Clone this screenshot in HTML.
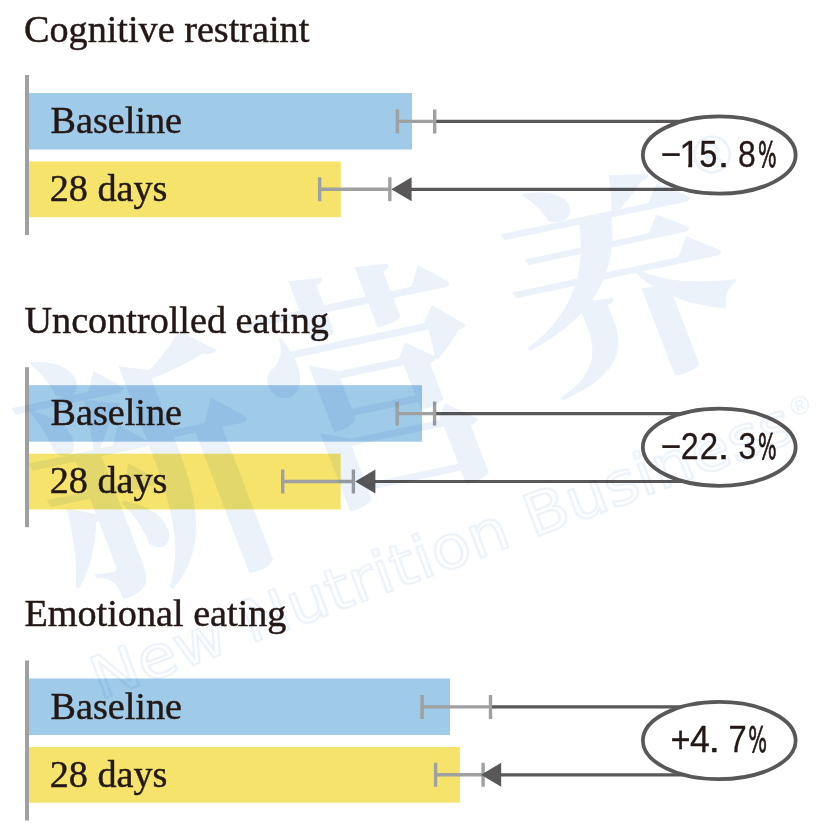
<!DOCTYPE html>
<html><head><meta charset="utf-8"><style>
html,body{margin:0;padding:0;background:#fff;}
svg{display:block;}
.serif{font-family:"Liberation Serif",serif;font-size:38.2px;fill:#231815;stroke:#231815;stroke-width:0.45px;}
.num{font-family:"Liberation Sans",sans-serif;font-size:37.5px;fill:#231815;stroke:#231815;stroke-width:0.3px;}
</style></head><body>
<svg width="828" height="824" viewBox="0 0 828 824">
<rect width="828" height="824" fill="#fff"/>
<g>
<text class="serif" x="24.0" y="42.0">Cognitive restraint</text>
<rect x="25" y="75.00" width="4" height="160" fill="#9fa0a0"/>
<rect x="29" y="93.00" width="383.00" height="56.5" fill="#9fcae8"/>
<rect x="29" y="161.50" width="311.80" height="55.7" fill="#f5e36c"/>
<text class="serif" x="50.5" y="133.00">Baseline</text>
<text class="serif" x="49.7" y="201.20">28 days</text>
<path d="M397.40 121.40H434.70" stroke="#9fa0a0" stroke-width="3.4" fill="none"/>
<path d="M397.40 109.40V133.40M434.70 109.40V133.40" stroke="#9fa0a0" stroke-width="3.4" fill="none"/>
<path d="M436.20 121.40H705" stroke="#595757" stroke-width="3.2" fill="none"/>
<path d="M319.65 189.30H389.85" stroke="#9fa0a0" stroke-width="3.4" fill="none"/>
<path d="M319.65 177.30V201.30M389.85 177.30V201.30" stroke="#9fa0a0" stroke-width="3.4" fill="none"/>
<path d="M410.40 189.30H705" stroke="#595757" stroke-width="3.2" fill="none"/>
<path d="M391.40 189.30L411.60 177.30V201.30Z" fill="#595757"/>
<ellipse cx="719.25" cy="155.05" rx="76.4" ry="38.6" fill="#fff" stroke="#595757" stroke-width="3.8"/>
<g class="num"><text transform="translate(660.74,166.9) scale(0.940,1)">−</text>
<clipPath id="c1_0"><rect x="677.15" y="126.90" width="30" height="36.55"/><rect x="688.26" y="161.90" width="3.94" height="7"/></clipPath>
<text x="679.15" y="166.9" clip-path="url(#c1_0)">1</text>
<text transform="translate(699.19,166.9) scale(0.870,1)">5</text>
<text transform="translate(717.61,166.9) scale(1.151,1)">.</text>
<text transform="translate(738.04,166.9) scale(0.851,1)">8</text>
<text style="font-family:'DejaVu Sans',sans-serif;font-size:35.2px;stroke-width:0.8px" transform="translate(757.92,166.9) scale(0.558,1)">%</text></g>
</g>
<g>
<text class="serif" x="24.5" y="333.2">Uncontrolled eating</text>
<rect x="25" y="367.20" width="4" height="160" fill="#9fa0a0"/>
<rect x="29" y="385.20" width="393.00" height="56.5" fill="#9fcae8"/>
<rect x="29" y="453.70" width="311.60" height="55.7" fill="#f5e36c"/>
<text class="serif" x="50.5" y="425.20">Baseline</text>
<text class="serif" x="49.7" y="493.40">28 days</text>
<path d="M397.15 413.60H434.60" stroke="#9fa0a0" stroke-width="3.4" fill="none"/>
<path d="M397.15 401.60V425.60M434.60 401.60V425.60" stroke="#9fa0a0" stroke-width="3.4" fill="none"/>
<path d="M436.10 413.60H705" stroke="#595757" stroke-width="3.2" fill="none"/>
<path d="M282.70 481.50H353.40" stroke="#9fa0a0" stroke-width="3.4" fill="none"/>
<path d="M282.70 469.50V493.50M353.40 469.50V493.50" stroke="#9fa0a0" stroke-width="3.4" fill="none"/>
<path d="M374.20 481.50H705" stroke="#595757" stroke-width="3.2" fill="none"/>
<path d="M355.20 481.50L375.40 469.50V493.50Z" fill="#595757"/>
<ellipse cx="719.25" cy="447.25" rx="76.4" ry="38.6" fill="#fff" stroke="#595757" stroke-width="3.8"/>
<g class="num"><text transform="translate(660.74,459.0) scale(0.940,1)">−</text>
<text transform="translate(680.68,459.0) scale(0.862,1)">2</text>
<text transform="translate(699.75,459.0) scale(0.879,1)">2</text>
<text transform="translate(717.61,459.0) scale(1.151,1)">.</text>
<text transform="translate(738.61,459.0) scale(0.848,1)">3</text>
<text style="font-family:'DejaVu Sans',sans-serif;font-size:35.2px;stroke-width:0.8px" transform="translate(757.92,459.0) scale(0.558,1)">%</text></g>
</g>
<g>
<text class="serif" x="24.5" y="625.6">Emotional eating</text>
<rect x="25" y="660.50" width="4" height="160" fill="#9fa0a0"/>
<rect x="29" y="678.50" width="421.00" height="56.5" fill="#9fcae8"/>
<rect x="29" y="747.00" width="431.00" height="55.7" fill="#f5e36c"/>
<text class="serif" x="50.5" y="718.50">Baseline</text>
<text class="serif" x="49.7" y="786.70">28 days</text>
<path d="M422.05 706.90H490.50" stroke="#9fa0a0" stroke-width="3.4" fill="none"/>
<path d="M422.05 694.90V718.90M490.50 694.90V718.90" stroke="#9fa0a0" stroke-width="3.4" fill="none"/>
<path d="M492.00 706.90H705" stroke="#595757" stroke-width="3.2" fill="none"/>
<path d="M435.60 774.80H483.10" stroke="#9fa0a0" stroke-width="3.4" fill="none"/>
<path d="M435.60 762.80V786.80M483.10 762.80V786.80" stroke="#9fa0a0" stroke-width="3.4" fill="none"/>
<path d="M500.00 774.80H705" stroke="#595757" stroke-width="3.2" fill="none"/>
<path d="M481.00 774.80L501.20 762.80V786.80Z" fill="#595757"/>
<ellipse cx="719.25" cy="740.55" rx="76.4" ry="38.6" fill="#fff" stroke="#595757" stroke-width="3.8"/>
<g class="num"><text transform="translate(670.38,752.3) scale(0.918,1)">+</text>
<text transform="translate(689.90,752.3) scale(0.950,1)">4</text>
<text transform="translate(708.21,752.3) scale(1.151,1)">.</text>
<text transform="translate(728.58,752.3) scale(0.872,1)">7</text>
<text style="font-family:'DejaVu Sans',sans-serif;font-size:35.2px;stroke-width:0.8px" transform="translate(748.21,752.3) scale(0.561,1)">%</text></g>
</g>
<g style="mix-blend-mode:multiply" fill="#ebf2fa">
<g font-family="'Liberation Serif', 'Noto Serif CJK SC', serif" font-weight="700" font-size="235px">
<text transform="translate(146,465) rotate(-12) skewX(9) scale(1.0,1.14)" x="-117.5" y="90.7">新</text>
<text transform="translate(377,382) rotate(-12) skewX(9) scale(0.95,1.08)" x="-117.5" y="90.7">营</text>
<text transform="translate(618,279) rotate(-12) skewX(9) scale(1.0,0.95)" x="-117.5" y="90.7">养</text>
</g>
<text font-family="Liberation Sans, sans-serif" font-size="54px" transform="translate(712,154) rotate(-20)" x="-20" y="19">®</text>
<text font-family="Liberation Sans, sans-serif" font-size="26px" transform="translate(800,405) rotate(-20)" x="-10" y="9">®</text>
<text font-family="DejaVu Sans, sans-serif" font-size="58px" fill="none" stroke="#ebf2fa" stroke-width="2" transform="translate(100,700) rotate(-20.5)" textLength="745" lengthAdjust="spacingAndGlyphs">New Nutrition Business</text>
</g>
</svg>
</body></html>
